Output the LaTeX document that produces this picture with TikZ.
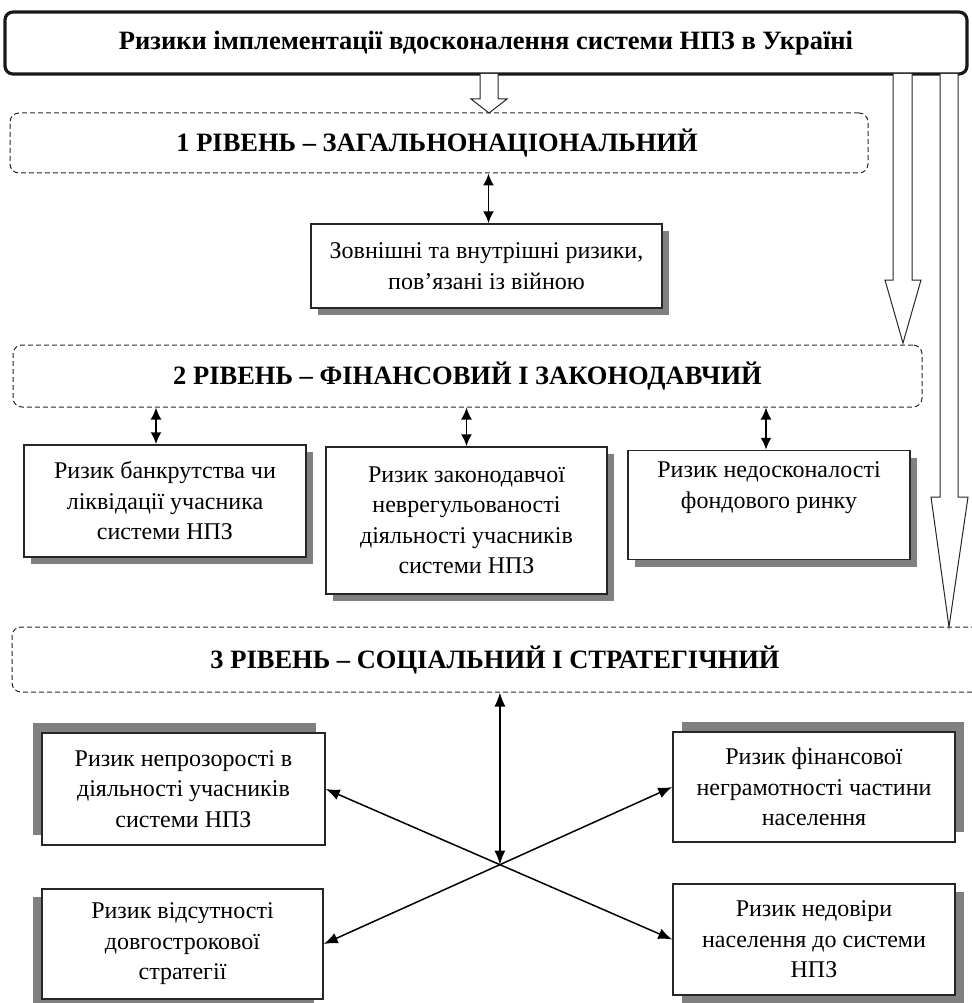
\documentclass[tikz,border=0pt]{standalone}
\usepackage{fontspec}
\setmainfont{Liberation Serif}
\usetikzlibrary{arrows.meta,shadows,calc,intersections}
\begin{document}
\begin{tikzpicture}[x=1pt,y=-1pt,
  box/.style={draw=black!85, line width=1.5pt, fill=white, inner sep=0pt, align=center,
    font=\fontsize{24}{30.5}\selectfont},
  lvl/.style={draw=black!85, dash pattern=on 5pt off 3pt, line width=1pt, rounded corners=9pt,
    inner sep=0pt},
  lvltext/.style={inner sep=0pt, font=\bfseries\fontsize{26.5}{30}\selectfont},
  shdr/.style={drop shadow={shadow xshift=7pt, shadow yshift=-7pt, fill=black!50, opacity=1}},
  shul/.style={drop shadow={shadow xshift=-9pt, shadow yshift=10pt, fill=black!50, opacity=1}},
  shur/.style={drop shadow={shadow xshift=9pt, shadow yshift=10pt, fill=black!50, opacity=1}},
  shdl/.style={drop shadow={shadow xshift=-9pt, shadow yshift=-8pt, fill=black!50, opacity=1}},
  shdr2/.style={drop shadow={shadow xshift=9pt, shadow yshift=-8pt, fill=black!50, opacity=1}},
  dbl/.style={line width=1.8pt, {Latex[length=12pt,width=11pt]}-{Latex[length=12pt,width=11pt]}},
  dblthin/.style={line width=1.5pt, {Latex[length=14pt,width=11pt]}-{Latex[length=14pt,width=11pt]}},
  barrow/.style={draw=black!85, line width=1pt, fill=white, line join=miter}
]
\useasboundingbox (0,0) rectangle (971,1003);

% title
\node[draw=black!90, line width=3.2pt, rounded corners=8pt, fill=white, minimum width=962pt,
  minimum height=62pt, inner sep=0pt, font=\bfseries\fontsize{26.5}{30}\selectfont]
  (title) at (486,43) {Ризики імплементації вдосконалення системи НПЗ в Україні};

% level boxes
\node[lvl, minimum width=858pt, minimum height=60pt] (d1) at (439,143) {};
\node[lvltext] (t1) at (437,143) {1 РІВЕНЬ – ЗАГАЛЬНОНАЦІОНАЛЬНИЙ};
\node[lvl, minimum width=909pt, minimum height=62pt] (d2) at (467.5,376) {};
\node[lvltext] (t2) at (467.5,376) {2 РІВЕНЬ – ФІНАНСОВИЙ І ЗАКОНОДАВЧИЙ};
\node[lvl, minimum width=973pt, minimum height=65pt] (d3) at (498.5,659.5) {};
\node[lvltext] (t3) at (495,660) {3 РІВЕНЬ – СОЦІАЛЬНИЙ І СТРАТЕГІЧНИЙ};

% block arrows
\draw[barrow] (480,74) -- (480,99) -- (471,99) -- (489,113) -- (507,99) -- (498,99) -- (498,74);
\draw[barrow] (893,74) -- (893,280) -- (885,280) -- (903,343) -- (921,280) -- (912,280) -- (912,74);
\draw[barrow] (940,74) -- (940,497) -- (931,497) -- (949,627) -- (968,497) -- (958,497) -- (958,74);

% level 1
\node[box, shdr, minimum width=351pt, minimum height=84pt] (a1) at (486.5,266)
  {Зовнішні та внутрішні ризики,\\ пов’язані із війною};
\draw[dbl] ([xshift=2pt]a1.north |- d1.south) -- ([xshift=2pt]a1.north);

% level 2
\node[box, shdr, minimum width=282pt, minimum height=112pt] (b1) at (165,501)
  {Ризик банкрутства чи\\ ліквідації учасника\\ системи НПЗ};
\node[box, shdr, minimum width=281pt, minimum height=147pt] (b2) at (466.5,520.5)
  {Ризик законодавчої\\ неврегульованості\\ діяльності учасників\\ системи НПЗ};
\node[box, shdr, minimum width=282pt, minimum height=109pt] (b3) at (769,505)
  {Ризик недосконалості\\ фондового ринку\\ \strut};
\draw[dbl] ([xshift=-9pt]b1.north |- d2.south) -- ([xshift=-9pt]b1.north);
\draw[dbl] (b2.north |- d2.south) -- (b2.north);
\draw[dbl] ([xshift=-3pt]b3.north |- d2.south) -- ([xshift=-3pt]b3.north);

% level 3
\node[box, shul, minimum width=283pt, minimum height=112pt] (c1) at (183.5,789)
  {Ризик непрозорості в\\ діяльності учасників\\ системи НПЗ};
\node[box, shur, minimum width=282pt, minimum height=110pt] (c2) at (814,787)
  {Ризик фінансової\\ неграмотності частини\\ населення};
\node[box, shdl, minimum width=281pt, minimum height=110pt] (c3) at (182.5,944)
  {Ризик відсутності\\ довгострокової\\ стратегії};
\node[box, shdr2, minimum width=282pt, minimum height=111pt] (c4) at (814,939.5)
  {Ризик недовіри\\ населення до системи\\ НПЗ};

\path[name path=p1] (c1.east) -- (c4.west);
\path[name path=p2] (c3.east) -- (c2.west);
\path[name intersections={of=p1 and p2, by=X}];
\draw[dblthin] (c1.east) -- (c4.west);
\draw[dblthin] (c3.east) -- (c2.west);
\draw[dblthin] (X |- d3.south) -- (X);
\end{tikzpicture}
\end{document}
